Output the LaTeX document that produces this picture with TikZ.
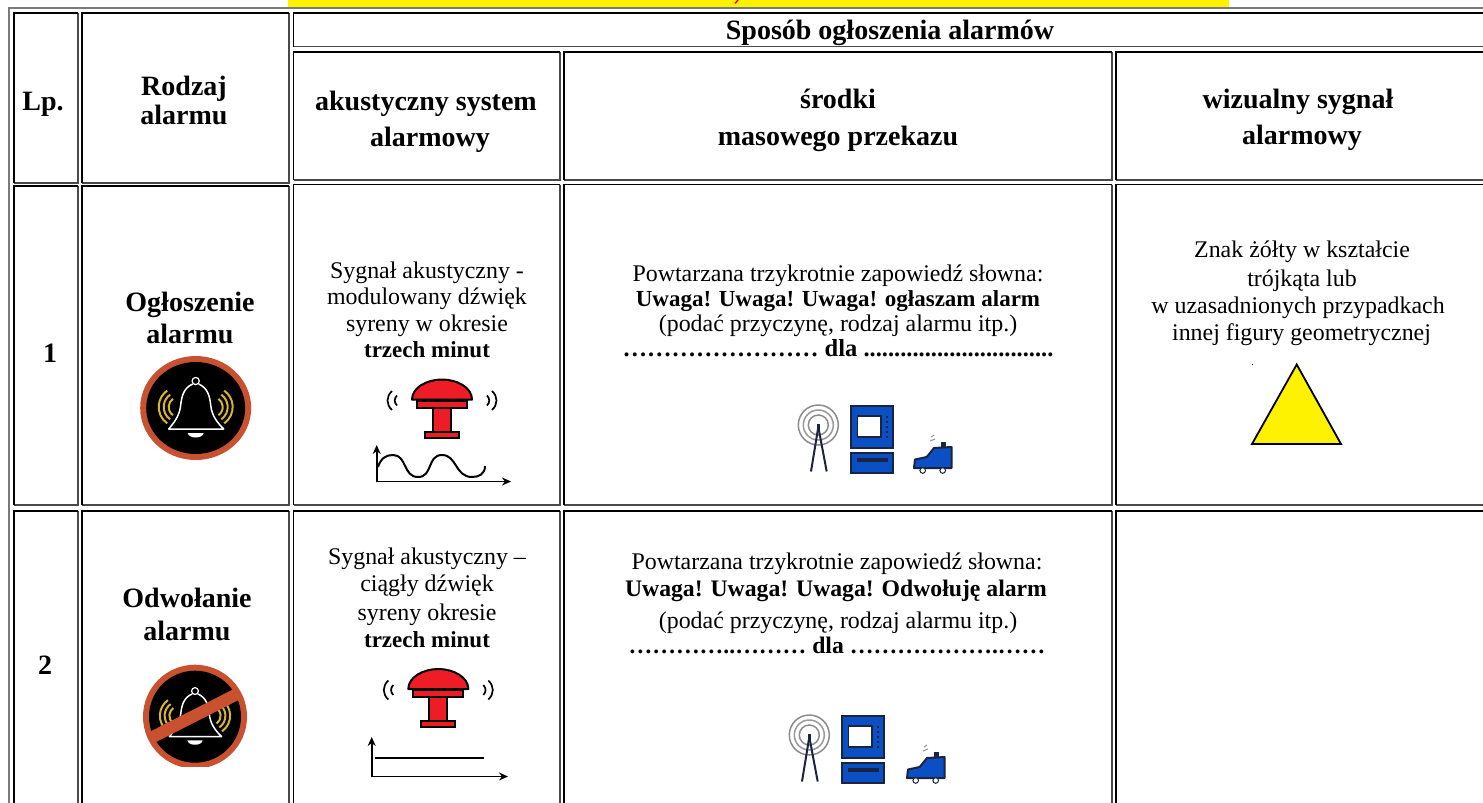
\documentclass[tikz,border=0pt]{standalone}
\usepackage{fontspec}
\setmainfont{Liberation Serif}
\usetikzlibrary{arrows.meta}
\definecolor{ring}{HTML}{C9512F}
\definecolor{bellyel}{HTML}{D9B52A}
\definecolor{sirenred}{HTML}{EE1C25}
\definecolor{mblue}{HTML}{0B4FC4}
\definecolor{mdark}{HTML}{1A2340}
\definecolor{edgegray}{HTML}{7A7A7A}
\tikzset{
  body/.style={anchor=base,inner sep=0pt,font=\fontsize{23.9}{26}\selectfont},
  bodyb/.style={anchor=base,inner sep=0pt,font=\fontsize{23}{26}\selectfont\bfseries},
  bodybw/.style={anchor=base,inner sep=0pt,font=\fontsize{23.7}{26}\selectfont\bfseries},
  dotsb/.style={anchor=base,inner sep=0pt,font=\fontsize{24.5}{26}\selectfont\bfseries},
  head/.style={anchor=base,inner sep=0pt,font=\fontsize{28}{30}\selectfont\bfseries},
  cellt/.style={line width=1.5pt,black},
  cellb/.style={line width=1.3pt,edgegray!60!black},
  axis/.style={line width=1.8pt,-{Stealth[length=9pt,width=8pt]}},
}
\newcommand{\tcell}[4]{%x0 y0 x1 y1
  \draw[cellb] (#3,#2) -- (#3,#4) -- (#1,#4);
  \draw[cellt] (#1,#4) -- (#1,#2) -- (#3,#2);
}
\newcommand{\bellbody}{%
  \foreach \s in {1,-1}{
    \begin{scope}[xscale=\s]
    \foreach \R in {20,15,10}{
      \draw[bellyel,line width=2pt] (-17,-1) ++(125:\R) arc (125:235:\R);
    }
    \end{scope}
  }
  \draw[white,line width=1.5pt,line join=round] (-3,-24) .. controls (-12,-20) and (-14,-12) .. (-15,-3)
     .. controls (-16,8) and (-22,15) .. (-27,21) -- (28,21)
     .. controls (22,15) and (16,8) .. (15,-3)
     .. controls (14,-12) and (12,-20) .. (3,-24);
  \draw[white,line width=1.2pt] (0,-27) circle (3.6);
  \fill[white] (-8,25) -- (8,25) .. controls (7,31) and (-7,31) .. (-8,25) -- cycle;
}
\newcommand{\sirenicon}{%
  \draw[fill=sirenred,line width=2pt,line join=round] (-30,-1) .. controls (-30,-13) and (-15,-21) .. (0,-21)
      .. controls (15,-21) and (30,-13) .. (30,-1) -- cycle;
  \draw[fill=sirenred,line width=2pt] (-25,0) rectangle (25,7);
  \draw[fill=sirenred,line width=2pt] (-9,7) rectangle (9,31);
  \draw[fill=sirenred,line width=2pt] (-17,31) rectangle (17,37);
  \foreach \s in {1,-1}{
    \begin{scope}[xscale=\s]
    \draw[line width=1.7pt] (50,-9.5) .. controls (56,-4) and (56,4) .. (50,9.5);
    \draw[line width=1.7pt] (45,-5) .. controls (48,-2) and (48,2) .. (45,5);
    \end{scope}
  }
}
\newcommand{\mediaicon}[1]{%
  \foreach \R/\c in {20/gray!90,15/gray!80,10/gray!90}{
    \draw[\c,line width=1.5pt] (818.3,425) circle (\R);
  }
  \draw[mdark,line width=2pt] (818.3,427) -- (811,471.5);
  \draw[mdark,line width=2pt] (818.3,427) -- (826.7,471.5);
  \draw[mdark,line width=3.2pt] (818.3,424) -- (818.3,431);
  \draw[fill=mblue,draw=mdark,line width=2pt] (851,406) rectangle (893,448);
  \draw[fill=white,draw=mdark,line width=1.6pt] (857.5,416) rectangle (881,437);
  \foreach \yy in {416,421,426,431,436}{\fill[mdark] (885.5,\yy) rectangle (887.5,\yy+2);}
  \draw[fill=mblue,draw=mdark,line width=2pt] (851,453) rectangle (893,472.5);
  \fill[mdark] (857,458) rectangle (888,462);
  \begin{scope}[xshift=#1]
  \draw[fill=mblue,draw=mdark,line width=2pt,line join=round] (914,468) -- (915,459.5) -- (926.7,457) -- (934,448) -- (951.5,447) -- (951.5,468) -- cycle;
  \fill[mdark] (941,441.5) rectangle (945.5,447);
  \draw[mdark,line width=1pt,fill=white] (922.7,470.5) circle (2.8);
  \draw[mdark,line width=1pt,fill=white] (942.7,470.5) circle (2.8);
  \draw[gray!80,line width=1.1pt] (930,441) -- (935,439) (931,437) -- (934,435);
  \end{scope}
}
\begin{document}
\begin{tikzpicture}[x=1pt,y=-1pt]
\useasboundingbox (0,0) rectangle (1483,803);
\fill[white] (0,0) rectangle (1483,803);
% strip above the table
\fill[yellow] (288,0) rectangle (1229,7.5);
\draw[red,line width=1.4pt] (738,0) -- (735,3.5);
% outer frame
\draw[edgegray,line width=1.2pt] (9,803) -- (9,8) -- (1483,8);
% cells
\tcell{14}{13}{78}{183}
\tcell{82}{13}{289}{183}
\tcell{293.5}{13}{1490}{46.5}
\tcell{293.5}{52}{560}{180}
\tcell{564}{52}{1112}{180}
\tcell{1116}{52}{1490}{180}
\tcell{14}{186}{78}{505}
\tcell{82}{186}{289}{505}
\tcell{293.5}{184.5}{560}{505}
\tcell{564}{184.5}{1112}{505}
\tcell{1116}{184.5}{1490}{505}
\tcell{14}{511}{78}{810}
\tcell{82}{511}{289}{810}
\tcell{293.5}{511}{560}{810}
\tcell{564}{511}{1112}{810}
\tcell{1116}{511}{1490}{810}
% header
\node[head] (hway) at (890,39) {Sposób ogłoszenia alarmów};
\node[head] (hlp) at (43,110) {Lp.};
\node[head] (hr1) at (184,95) {Rodzaj};
\node[head] (hr2) at (184,124) {alarmu};
\node[head] (ha1) at (426,110) {akustyczny system};
\node[head] (ha2) at (430,146) {alarmowy};
\node[head] (hs1) at (838,108) {środki};
\node[head] (hs2) at (838,145) {masowego przekazu};
\node[head] (hw1) at (1298,108) {wizualny sygnał};
\node[head] (hw2) at (1302,144) {alarmowy};
% row 1
\node[head] (n1) at (50,362) {1};
\node[head] (o1) at (190,311) {Ogłoszenie};
\node[head] (o2) at (190,343) {alarmu};
\node[body] (a1) at (427,278) {Sygnał akustyczny -};
\node[body] (a2) at (427,304) {modulowany dźwięk};
\node[body] (a3) at (427,331) {syreny w okresie};
\node[bodyb] (a4) at (427,357) {trzech minut};
\node[body] (m1) at (838,281) {Powtarzana trzykrotnie zapowiedź słowna:};
\node[bodyb] (m2) at (838,306) {Uwaga! Uwaga! Uwaga! ogłaszam alarm};
\node[body] (m3) at (838,331) {(podać przyczynę, rodzaj alarmu itp.)};
\node[dotsb] (m4) at (838,356) {…………………… dla ...............................};
\node[body] (w1) at (1302,257) {Znak żółty w kształcie};
\node[body] (w2) at (1302,286) {trójkąta lub};
\node[body] (w3) at (1298,313) {w uzasadnionych przypadkach};
\node[body] (w4) at (1301.5,340) {innej figury geometrycznej};
\fill[black] (1252,364) rectangle (1253,365);
\draw[fill=yellow,line width=1.8pt,line join=miter] (1296.7,364.5) -- (1341,444) -- (1252,444) -- cycle;
% bell 1
\begin{scope}
\clip (130,350) rectangle (251,459.5);
\fill[ring] (195.7,408) ellipse (55.5 and 52);
\fill[black] (195.7,408) ellipse (49.5 and 46);
\begin{scope}[shift={(195.7,408)}]
\bellbody
\end{scope}
\end{scope}
% siren 1
\begin{scope}[shift={(442,400.5)}]
\sirenicon
\end{scope}
\draw[axis] (376.7,482) -- (376.7,445);
\draw[axis] (376,481.5) -- (511,481.5);
\draw[line width=2pt] (378,467) .. controls (381,458) and (386,455) .. (393,455)
  .. controls (407,455) and (403,477) .. (418,477)
  .. controls (433,477) and (427,455) .. (442,455)
  .. controls (457,455) and (455,477) .. (472,477)
  .. controls (479,477) and (485,474) .. (485,466);
\mediaicon{0pt}
% row 2
\node[head] (n2) at (45,674) {2};
\node[head] (d1) at (187,607) {Odwołanie};
\node[head] (d2) at (187,640) {alarmu};
\node[body] (b1) at (427,564) {Sygnał akustyczny –};
\node[body] (b2) at (427,591) {ciągły dźwięk};
\node[body] (b3) at (427,620) {syreny okresie};
\node[bodyb] (b4) at (427,647) {trzech minut};
\node[body] (p1) at (837,569) {Powtarzana trzykrotnie zapowiedź słowna:};
\node[bodybw] (p2) at (836,596) {Uwaga! Uwaga! Uwaga! Odwołuję alarm};
\node[body] (p3) at (838,628) {(podać przyczynę, rodzaj alarmu itp.)};
\node[bodybw] (p4) at (837,653) {…………..……… dla ……………….……};
% bell 2
\begin{scope}
\clip (130,660) rectangle (251,766);
\fill[ring] (195,716.7) circle (52);
\fill[black] (195,716.7) circle (46);
\begin{scope}[shift={(195,716.7)},scale=.95]
\bellbody
\end{scope}
\draw[ring,line width=12pt] (194,716) ++(153:50) -- ++(-27:100);
\end{scope}
% siren 2
\begin{scope}[shift={(438.3,690)}]
\sirenicon
\end{scope}
\draw[axis] (371.7,777) -- (371.7,737);
\draw[axis] (371,776.5) -- (508,776.5);
\draw[line width=1.2pt] (375,758) -- (484,758);
\begin{scope}[shift={(-9,310)}]
\mediaicon{2pt}
\end{scope}
\end{tikzpicture}
\end{document}
